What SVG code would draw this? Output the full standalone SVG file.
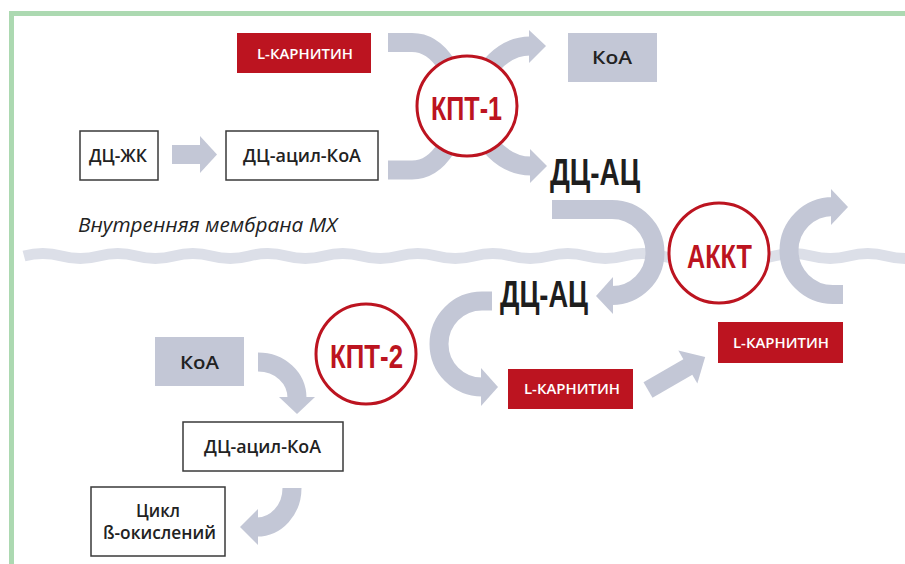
<svg xmlns="http://www.w3.org/2000/svg" width="905" height="564" viewBox="0 0 905 564">
<style>
.frame{fill:none;stroke:#acd9b1;stroke-width:5}
.wave{fill:none;stroke:#dcdfe8;stroke-width:11}
.band{fill:none;stroke:#c3c7d6;stroke-width:19}
.head{fill:#c3c7d6}
.box{fill:#fff;stroke:#3a3a3a;stroke-width:1.5}
.grey{fill:#c3c7d6}
.red{fill:#bc1420}
.enz{fill:#fff;stroke:#bc1420;stroke-width:3}
.lbl{font-family:"Open Sans","Noto Sans","DejaVu Sans",sans-serif;font-weight:600;font-size:18px;fill:#222;text-anchor:middle}
.kar{font-family:"Open Sans","Noto Sans","DejaVu Sans",sans-serif;font-weight:600;font-size:15px;fill:#fff;text-anchor:middle}
.big{font-family:"Liberation Sans","Arial",sans-serif;font-weight:700;font-size:36px;fill:#1e1e1e;text-anchor:middle}
.etx{font-family:"Liberation Sans","Arial",sans-serif;font-weight:700;font-size:34px;fill:#bc1420;text-anchor:middle}
.mem{font-family:"Open Sans","Noto Sans","DejaVu Sans",sans-serif;font-style:italic;font-size:20px;fill:#222}
</style>
<path class="frame" d="M11.5,564 V13.5 H905"/>
<path id="membrane" class="wave" d="M24,256 q18.75,-5 37.5,0 t37.5,0 t37.5,0 t37.5,0 t37.5,0 t37.5,0 t37.5,0 t37.5,0 t37.5,0 t37.5,0 t37.5,0 t37.5,0 t37.5,0 t37.5,0 t37.5,0 t37.5,0 t37.5,0 t37.5,0 t37.5,0 t37.5,0 t37.5,0 t37.5,0 t37.5,0 t37.5,0"/>
<text class="mem" x="78" y="232" textLength="259" lengthAdjust="spacingAndGlyphs">Внутренняя мембрана МХ</text>
<g id="connectors">
<rect class="head" x="172" y="145" width="29" height="19"/>
<polygon class="head" points="200,136 217,154.5 200,173"/>
<path class="band" d="M388,42.5 H412 Q432,42.5 446,64 L455,80"/>
<path class="band" d="M388,170 H412 Q432,170 446,148 L455,132"/>
<path class="band" d="M478,84 Q500,46 530,46"/>
<polygon class="head" points="529,30 546,46 529,63"/>
<path class="band" d="M478,128 Q500,166 531,166"/>
<polygon class="head" points="530,149 547,166 530,183"/>
<path class="band" d="M552,209.5 H612 A43,43 0 0 1 612,295.5 H614"/>
<polygon class="head" points="613,277 596,296 613,314"/>
<path class="band" d="M843,294.5 H833 A44,44 0 0 1 833,206.5 H832"/>
<polygon class="head" points="831,189 848,207 831,225"/>
<path class="band" d="M492,301 H482 A43,43 0 0 0 482,387 H483"/>
<polygon class="head" points="481,368 498,387 481,406"/>
<g transform="translate(648,390) rotate(-30)">
<rect class="head" x="0" y="-9" width="47" height="18"/>
<polygon class="head" points="46,-19 66,0 46,19"/>
</g>
<path class="band" d="M258,362 C280,362 297,378 297,398"/>
<polygon class="head" points="279,397 297,414 315,397"/>
<path class="band" d="M292,488 C292,510 276,527 257,527"/>
<polygon class="head" points="258,509 240,527 258,545"/>
</g>
<g id="kpt1"><circle class="enz" cx="467" cy="106" r="50"/><text class="etx" x="466.5" y="120" textLength="71" lengthAdjust="spacingAndGlyphs">КПТ-1</text></g>
<g id="akkt"><circle class="enz" cx="719" cy="253" r="50"/><text class="etx" x="719.5" y="268" textLength="65" lengthAdjust="spacingAndGlyphs">АККТ</text></g>
<g id="kpt2"><circle class="enz" cx="366" cy="354" r="50"/><text class="etx" x="366.5" y="368" textLength="73" lengthAdjust="spacingAndGlyphs">КПТ-2</text></g>
<g id="dcac-top"><text class="big" x="595" y="185" textLength="90" lengthAdjust="spacingAndGlyphs">ДЦ-АЦ</text></g>
<g id="dcac-bottom"><text class="big" x="544" y="307" textLength="88" lengthAdjust="spacingAndGlyphs">ДЦ-АЦ</text></g>
<g id="lcar-top"><rect class="red" x="237" y="33" width="134" height="40"/><text class="kar" x="305" y="58.5" textLength="96" lengthAdjust="spacingAndGlyphs">L-КАРНИТИН</text></g>
<g id="koa-top"><rect class="grey" x="568" y="33" width="89" height="49"/><text class="lbl" x="612" y="64" font-size="21" textLength="40" lengthAdjust="spacingAndGlyphs">КоА</text></g>
<g id="dczk"><rect class="box" x="80" y="131" width="78" height="49"/><text class="lbl" x="118" y="162" textLength="58" lengthAdjust="spacingAndGlyphs">ДЦ-ЖК</text></g>
<g id="dcacyl-top"><rect class="box" x="226" y="131" width="152" height="49"/><text class="lbl" x="302" y="162" textLength="118" lengthAdjust="spacingAndGlyphs">ДЦ-ацил-КоА</text></g>
<g id="lcar-right"><rect class="red" x="718" y="322" width="125" height="41"/><text class="kar" x="781" y="348" textLength="96" lengthAdjust="spacingAndGlyphs">L-КАРНИТИН</text></g>
<g id="lcar-mid"><rect class="red" x="508" y="369" width="125" height="40"/><text class="kar" x="572" y="394" textLength="96" lengthAdjust="spacingAndGlyphs">L-КАРНИТИН</text></g>
<g id="koa-bottom"><rect class="grey" x="155" y="337" width="89" height="49"/><text class="lbl" x="199.5" y="369" font-size="21" textLength="39" lengthAdjust="spacingAndGlyphs">КоА</text></g>
<g id="dcacyl-bottom"><rect class="box" x="183" y="422" width="160" height="49"/><text class="lbl" x="262.5" y="453" textLength="117" lengthAdjust="spacingAndGlyphs">ДЦ-ацил-КоА</text></g>
<g id="cycle"><rect class="box" x="91" y="487" width="134" height="69"/><text class="lbl" x="158" y="517" textLength="44" lengthAdjust="spacingAndGlyphs">Цикл</text><text class="lbl" x="159.5" y="539" textLength="113" lengthAdjust="spacingAndGlyphs">ß-окислений</text></g>
</svg>
